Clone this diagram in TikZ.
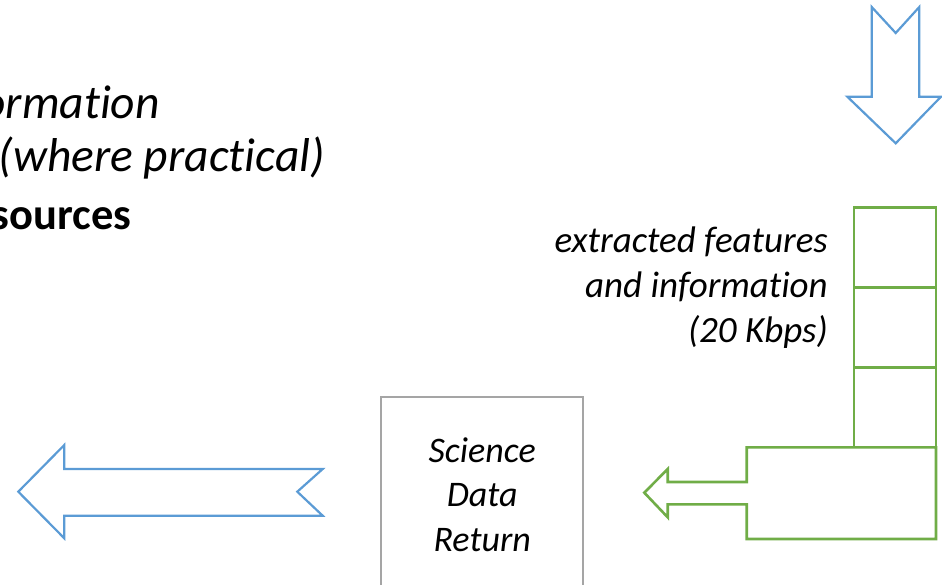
\documentclass[tikz,border=0pt]{standalone}
\usepackage{fontspec}
\setmainfont{Carlito}[Ligatures=NoCommon]
\definecolor{flowblue}{HTML}{5B9BD5}
\definecolor{flowgreen}{HTML}{70AD47}
\definecolor{boxgray}{HTML}{A5A5A5}

\begin{document}
\begin{tikzpicture}[x=1pt,y=-1pt,
  bluearrow/.style={draw=flowblue, line width=2.2pt, line join=miter, fill=white},
  greenshape/.style={draw=flowgreen, line width=2.6pt, line join=miter, fill=white},
  captext/.style={font=\fontsize{37}{45}\selectfont\itshape, inner sep=0pt},
  headit/.style={font=\fontsize{47.5}{55}\selectfont\itshape, inner sep=0pt, anchor=base east},
  headbf/.style={font=\fontsize{44.5}{55}\selectfont\bfseries, inner sep=0pt, anchor=base east}]
\useasboundingbox (0,0) rectangle (942,585);
\clip (0,0) rectangle (942,585);

% heading text, running in from the left edge
\node[headit] (h1) at (160,118.3) {ormation};
\node[headit] (h2) at (325,171.7) {(where practical)};
\node[headbf] (h3) at (131.7,230) {sources};

% incoming data (block arrow pointing down)
\draw[bluearrow] (871.7,7) -- (895.7,33) -- (919.3,7) -- (919.3,96.7)
  -- (941,96.7) -- (895.7,143.3) -- (847.3,96.7) -- (871.7,96.7) -- cycle;

% stacked buffer of extracted features
\draw[greenshape] (854,207.7) rectangle (936,287.7);
\draw[greenshape] (854,287.7) rectangle (936,367.3);
\draw[greenshape] (854,367.3) rectangle (936,447.3);

% base of the stack, sending its content to the left
\draw[greenshape] (746.7,447.3) -- (936,447.3) -- (936,539) -- (746.7,539)
  -- (746.7,504.3) -- (667.7,504.3) -- (667.7,517.3) -- (644.3,492.7)
  -- (667.7,469) -- (667.7,482) -- (746.7,482) -- cycle;

% caption of the stack (anchored on its last baseline)
\node[captext, align=right, anchor=base east] (feat) at (828,342)
  {extracted features\\and information\\(20 Kbps)};

% science data return box
\node[draw=boxgray, line width=2pt, minimum width=202.3pt, minimum height=196pt,
  inner sep=0pt, align=center, font=\fontsize{36}{44.5}\selectfont\itshape]
  (sdr) at (482.2,494.5) {Science\\Data\\Return};

% outgoing data (block arrow pointing left)
\draw[bluearrow] (18.3,491.7) -- (64.3,445) -- (64.3,469) -- (322.7,469)
  -- (297.3,491.7) -- (322.7,515.7) -- (64.3,515.7) -- (64.3,538.3) -- cycle;
\end{tikzpicture}
\end{document}
